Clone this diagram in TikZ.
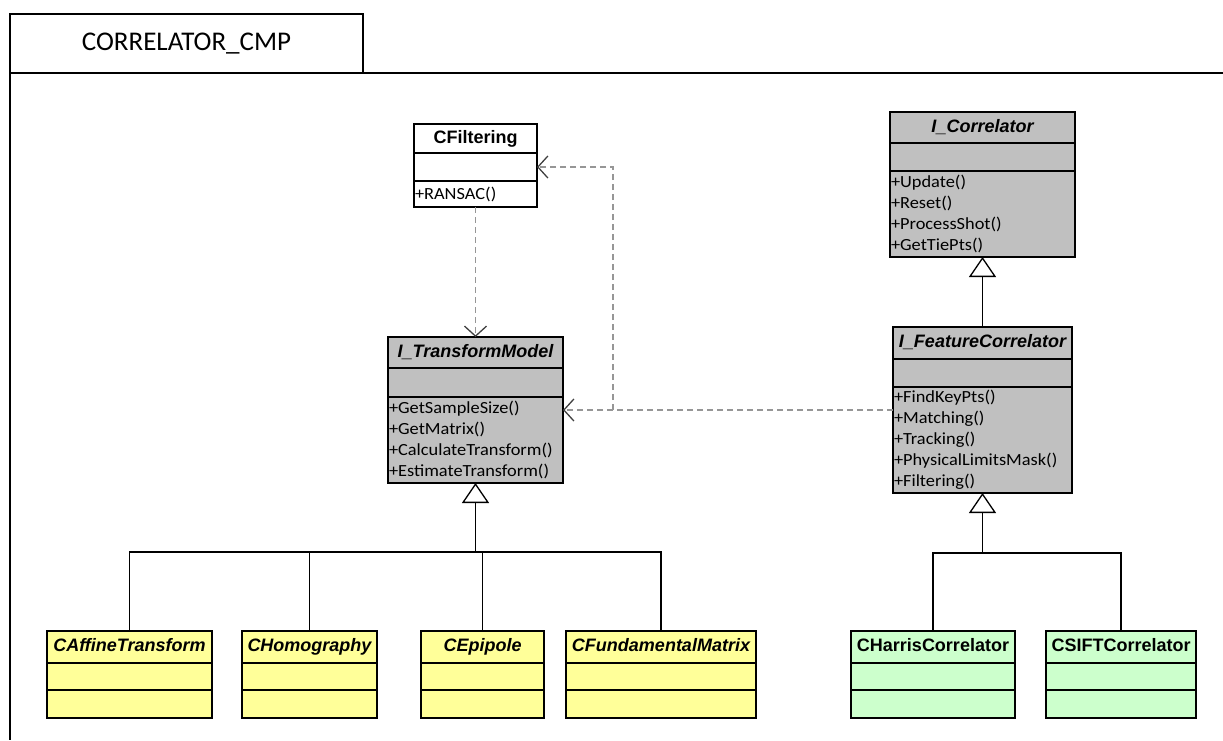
\documentclass[tikz,border=0pt]{standalone}
\usepackage{fontspec}
\setmainfont{Liberation Sans}
\newfontfamily\opsfont[FakeStretch=1.08]{Carlito}
\newfontfamily\capfont{Carlito}
\usetikzlibrary{arrows.meta, positioning}
\definecolor{absgray}{RGB}{192,192,192}
\definecolor{clsyellow}{RGB}{255,255,153}
\definecolor{clsgreen}{RGB}{204,255,204}
\definecolor{depgray}{RGB}{150,150,150}

\begin{document}
\begin{tikzpicture}[
  x=1pt, y=-1pt,
  cname/.style={draw, line width=1.1pt, outer sep=0pt, inner sep=0pt, align=center, text height=13pt, text depth=4pt, font=\fontsize{18}{20}\selectfont\bfseries},
  aname/.style={cname, font=\fontsize{18}{20}\selectfont\bfseries\itshape},
  cpart/.style={draw, line width=1.1pt, outer sep=0pt, inner sep=0pt},
  cops/.style={cpart, inner xsep=1pt, align=left, font=\opsfont\fontsize{17}{21}\selectfont},
  inherit/.style={line width=1.3pt, -{Triangle[open, length=20pt, width=27pt, fill=white]}},
  dep/.style={depgray, line width=1.1pt, dash pattern=on 6pt off 4pt, -{Straight Barb[length=10pt, width=22pt, line width=1.3pt, color=black!75]}},
  link/.style={line width=1.3pt}
]
\useasboundingbox (0,0) rectangle (1223,740);

% component frame
\node[draw, line width=1.1pt, outer sep=0pt, minimum width=353pt, minimum height=59pt, font=\capfont\fontsize{27}{30}\selectfont] (cmp) at (186.5,43.5) {CORRELATOR\_CMP};
\draw[line width=1.1pt] (cmp.south west) -- (10,740);
\draw[line width=1.1pt] (cmp.south west) -- (1223,73);

% filtering
\node[cname, fill=white, minimum width=123pt, minimum height=29pt] (filt) at (475.5,138.5) {CFiltering};
\node[cpart, fill=white, minimum width=123pt, minimum height=28pt, below=0pt of filt] (filt-a) {};
\node[cops, fill=white, minimum width=123pt, text width=121pt, minimum height=26pt, below=0pt of filt-a] (filt-o) {+RANSAC()};

% correlator interfaces
\node[aname, fill=absgray, minimum width=185pt, minimum height=31pt] (corr) at (982.5,127.5) {I\_Correlator};
\node[cpart, fill=absgray, minimum width=185pt, minimum height=28pt, below=0pt of corr] (corr-a) {};
\node[cops, fill=absgray, minimum width=185pt, text width=183pt, minimum height=86pt, below=0pt of corr-a] (corr-o) {+Update()\\+Reset()\\+ProcessShot()\\+GetTiePts()};

\node[aname, fill=absgray, minimum width=179pt, minimum height=32pt] (fc) at (982.5,343) {I\_FeatureCorrelator};
\node[cpart, fill=absgray, minimum width=179pt, minimum height=28pt, below=0pt of fc] (fc-a) {};
\node[cops, fill=absgray, minimum width=179pt, text width=177pt, minimum height=106pt, below=0pt of fc-a] (fc-o) {+FindKeyPts()\\+Matching()\\+Tracking()\\+PhysicalLimitsMask()\\+Filtering()};

% transform model
\node[aname, fill=absgray, minimum width=175pt, minimum height=31pt] (tm) at (475.5,352.5) {I\_TransformModel};
\node[cpart, fill=absgray, minimum width=175pt, minimum height=29pt, below=0pt of tm] (tm-a) {};
\node[cops, fill=absgray, minimum width=175pt, text width=173pt, minimum height=86pt, below=0pt of tm-a] (tm-o) {+GetSampleSize()\\+GetMatrix()\\+CalculateTransform()\\+EstimateTransform()};

% concrete classes
\node[aname, fill=clsyellow, minimum width=165pt, minimum height=32pt] (aff) at (129.5,647) {CAffineTransform};
\node[aname, fill=clsyellow, minimum width=135pt, minimum height=32pt] (hom) at (309.5,647) {CHomography};
\node[aname, fill=clsyellow, minimum width=123pt, minimum height=32pt] (epi) at (482.5,647) {CEpipole};
\node[aname, fill=clsyellow, minimum width=190pt, minimum height=32pt] (fund) at (661,647) {CFundamentalMatrix};
\node[cname, fill=clsgreen, minimum width=164pt, minimum height=32pt] (harris) at (933,647) {CHarrisCorrelator};
\node[cname, fill=clsgreen, minimum width=150pt, minimum height=32pt] (sift) at (1121,647) {CSIFTCorrelator};
\foreach \n/\w/\c in {aff/165/clsyellow, hom/135/clsyellow, epi/123/clsyellow, fund/190/clsyellow, harris/164/clsgreen, sift/150/clsgreen} {
  \node[cpart, fill=\c, minimum width=\w pt, minimum height=27pt, below=0pt of \n] (\n-a) {};
  \node[cpart, fill=\c, minimum width=\w pt, minimum height=28pt, below=0pt of \n-a] (\n-o) {};
}

% generalizations
\coordinate (tmbus) at (475.5,552);
\coordinate (fcbus) at (982.5,553);
\draw[link] (aff.north) -- (aff.north |- tmbus) -- (fund.north |- tmbus) -- (fund.north);
\draw[link] (hom.north) -- (hom.north |- tmbus);
\draw[link] (epi.north) -- (epi.north |- tmbus);
\draw[inherit] (tmbus) -- (tm-o.south);
\draw[link] (harris.north) -- (harris.north |- fcbus) -- (sift.north |- fcbus) -- (sift.north);
\draw[inherit] (fcbus) -- (fc-o.south);
\draw[inherit] (fc.north) -- (corr-o.south);

% dependencies
\coordinate (split) at (613,410);
\draw[dep] (filt-o.south) -- (tm.north);
\draw[dep] (fc-o.west |- split) -- (tm-o.east |- split);
\draw[dep] (split) |- (filt-a.east);

\end{tikzpicture}
\end{document}
